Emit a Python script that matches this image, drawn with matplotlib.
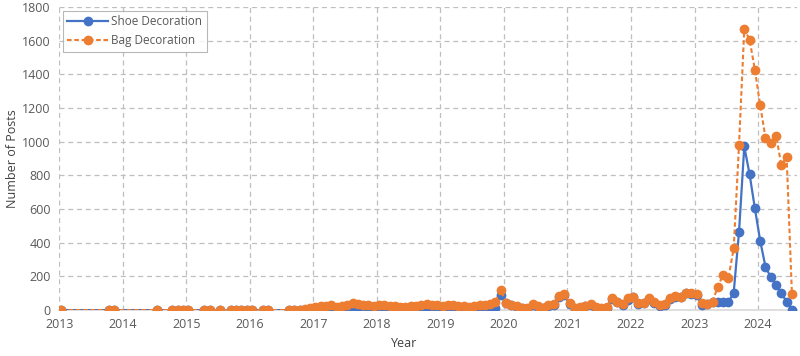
import matplotlib.pyplot as plt
import matplotlib.ticker as ticker

# (year, month) pairs with data, monthly from Aug 2016
early_months = [(2013, 1), (2013, 10), (2013, 11), (2014, 7), (2014, 10), (2014, 11), (2014, 12),
                (2015, 1), (2015, 4), (2015, 5), (2015, 7), (2015, 9), (2015, 10), (2015, 11),
                (2015, 12), (2016, 1), (2016, 3), (2016, 4)]
early_shoe = [0] * len(early_months)
early_bag = [0] * len(early_months)

monthly_start = (2016, 8)
shoe_monthly = [
    0, 0, 0, 0, 2,                                   # Aug-Dec 2016
    3, 5, 3, 5, 3, 5, 8, 15, 10, 5, 5, 3,            # 2017
    5, 8, 5, 3, 2, 3, 5, 5, 8, 12, 8, 5,             # 2018
    5, 5, 8, 5, 3, 2, 5, 8, 10, 12, 15, 90,          # 2019
    40, 28, 18, 12, 8, 30, 20, 12, 25, 30, 80, 90,   # 2020
    35, 5, 15, 22, 30, 15, 5, 15, 68, 48, 30, 60,    # 2021
    75, 35, 40, 68, 45, 25, 30, 68, 78, 78, 100, 95, # 2022
    90, 30, 35, 50, 50, 50, 47, 103, 462, 972, 807, 605,  # 2023
    412, 258, 195, 149, 100, 50, 0,                  # Jan-Jul 2024
]
bag_monthly = [
    0, 0, 0, 8, 15,                                  # Aug-Dec 2016
    20, 25, 22, 28, 20, 25, 30, 40, 35, 30, 28, 25,  # 2017
    30, 32, 25, 22, 18, 20, 22, 25, 28, 35, 30, 28,  # 2018
    25, 28, 30, 25, 22, 20, 25, 28, 30, 35, 50, 120, # 2019
    45, 32, 22, 15, 12, 35, 25, 15, 30, 35, 85, 95,  # 2020
    40, 10, 20, 26, 34, 20, 10, 20, 73, 50, 36, 73,  # 2021
    79, 40, 42, 73, 50, 30, 36, 73, 83, 80, 103, 100, # 2022
    93, 40, 35, 50, 139, 210, 189, 367, 978, 1670, 1607, 1428,  # 2023
    1218, 1025, 995, 1037, 861, 912, 95,             # Jan-Jul 2024
]

def to_x(y, m):
    return y + (m - 1 + 0.4) / 12

x = [to_x(y, m) for y, m in early_months]
y0, m0 = monthly_start
for i in range(len(bag_monthly)):
    mm = m0 - 1 + i
    x.append(to_x(y0 + mm // 12, mm % 12 + 1))
shoe = early_shoe + shoe_monthly
bag = early_bag + bag_monthly

blue = '#4472C4'
orange = '#ED7D31'
plt.rcParams['font.family'] = ['Open Sans', 'DejaVu Sans']

fig = plt.figure(figsize=(8, 3.56), dpi=100)
ax = fig.add_axes([0.074, 0.129, 0.922, 0.851])

ax.plot(x, shoe, color=blue, linewidth=1.6, marker='o', markersize=6, label='Shoe Decoration', zorder=3)
ax.plot(x, bag, color=orange, linewidth=1.5, linestyle=(0, (2.2, 1.3)), marker='o', markersize=6,
        label='Bag Decoration', zorder=4)

ax.set_xlim(2013, 2024.61)
ax.set_ylim(0, 1800)
ax.set_xticks(range(2013, 2025))
ax.set_yticks(range(0, 1801, 200))
ax.xaxis.set_major_formatter(ticker.FormatStrFormatter('%d'))
ax.grid(True, color='#BFBFBF', linestyle=(0, (4, 3)), linewidth=0.9)
ax.set_axisbelow(True)
for s in ['top', 'right', 'left']:
    ax.spines[s].set_visible(False)
ax.spines['bottom'].set_color('#D9D9D9')
ax.spines['bottom'].set_linewidth(1.2)
ax.tick_params(length=0, labelsize=9, colors='#595959', pad=6)
ax.set_xlabel('Year', fontsize=9, color='#404040')
ax.xaxis.set_label_coords(0.468, -0.09)
ax.set_ylabel('Number of Posts', fontsize=9, color='#404040')
ax.yaxis.set_label_coords(-0.054, 0.5)

leg = ax.legend(loc='upper left', fontsize=8.5, frameon=True, fancybox=False, edgecolor='#A6A6A6',
                borderaxespad=0.3, handlelength=3.4, handletextpad=0.3, labelcolor='#595959')
leg.get_frame().set_linewidth(0.8)

fig.savefig('out.png', dpi=100)
